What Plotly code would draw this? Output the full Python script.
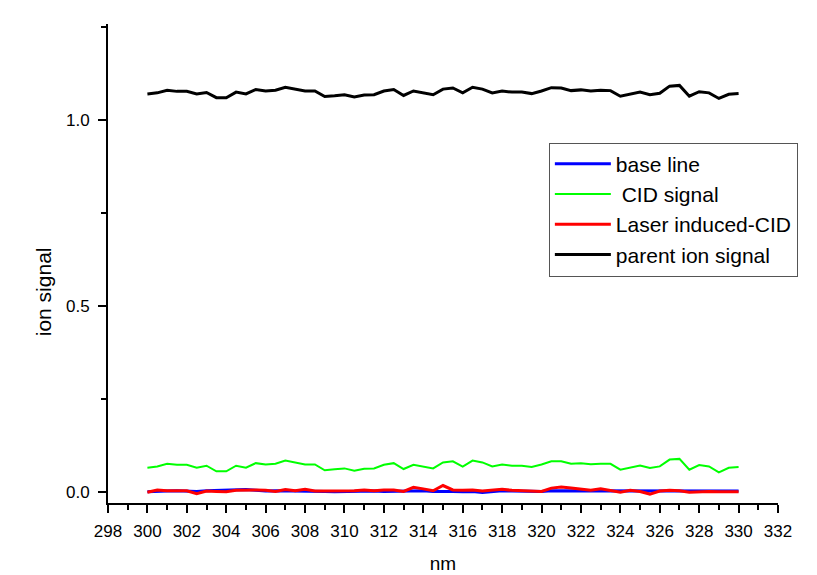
import plotly.graph_objects as go

wavelength = [300, 300.5, 301, 301.5, 302, 302.5, 303, 303.5, 304, 304.5,
              305, 305.5, 306, 306.5, 307, 307.5, 308, 308.5, 309, 309.5,
              310, 310.5, 311, 311.5, 312, 312.5, 313, 313.5, 314, 314.5,
              315, 315.5, 316, 316.5, 317, 317.5, 318, 318.5, 319, 319.5,
              320, 320.5, 321, 321.5, 322, 322.5, 323, 323.5, 324, 324.5,
              325, 325.5, 326, 326.5, 327, 327.5, 328, 328.5, 329, 329.5,
              330]

base_line = [0.001, 0.003, 0.003, 0.004, 0.003, 0.002, 0.004, 0.005, 0.004, 0.005,
             0.007, 0.005, 0.003, 0.004, 0.004, 0.003, 0.004, 0.002, 0.002, 0.001,
             0.002, 0.002, 0.002, 0.003, 0.002, 0.003, 0.003, 0.005, 0.004, 0.002,
             0.003, 0.002, 0.001, 0.002, -0.001, 0.002, 0.004, 0.003, 0.002, 0.001,
             0.002, 0.004, 0.004, 0.003, 0.003, 0.003, 0.003, 0.002, 0.002, 0.003,
             0.003, 0.002, 0.003, 0.004, 0.004, 0.004, 0.003, 0.003, 0.003, 0.003,
             0.003]

cid_signal = [0.0658, 0.0693, 0.0763, 0.0737, 0.0737, 0.0658, 0.0711, 0.0561, 0.0561, 0.0711,
              0.0658, 0.0781, 0.0746, 0.0763, 0.0851, 0.0798, 0.0746, 0.0746, 0.0588, 0.0614,
              0.0640, 0.0579, 0.0632, 0.0640, 0.0737, 0.0781, 0.0623, 0.0737, 0.0684, 0.0640,
              0.0800, 0.0830, 0.0690, 0.0850, 0.0800, 0.0690, 0.0746, 0.0711, 0.0711, 0.0675,
              0.0746, 0.0833, 0.0833, 0.0763, 0.0781, 0.0754, 0.0763, 0.0763, 0.0605, 0.0658,
              0.0719, 0.0649, 0.0693, 0.0877, 0.0895, 0.0605, 0.0728, 0.0693, 0.0535, 0.0658,
              0.0675]

laser_cid = [0.000, 0.006, 0.004, 0.005, 0.004, -0.004, 0.003, 0.002, 0.001, 0.005,
             0.006, 0.006, 0.005, 0.002, 0.007, 0.004, 0.008, 0.003, 0.003, 0.003,
             0.005, 0.004, 0.006, 0.004, 0.006, 0.006, 0.002, 0.013, 0.009, 0.004,
             0.018, 0.006, 0.005, 0.006, 0.003, 0.005, 0.008, 0.005, 0.004, 0.004,
             0.002, 0.011, 0.014, 0.011, 0.008, 0.005, 0.009, 0.004, 0.000, 0.005,
             0.002, -0.005, 0.003, 0.005, 0.004, 0.000, 0.002, 0.002, 0.001, 0.001,
             0.001]

parent_ion = [1.070, 1.073, 1.080, 1.077, 1.077, 1.070, 1.074, 1.060, 1.060, 1.075,
              1.070, 1.082, 1.078, 1.080, 1.088, 1.083, 1.078, 1.078, 1.063, 1.065,
              1.068, 1.062, 1.067, 1.068, 1.078, 1.082, 1.066, 1.078, 1.072, 1.068,
              1.083, 1.086, 1.073, 1.088, 1.083, 1.073, 1.078, 1.075, 1.075, 1.071,
              1.078, 1.087, 1.086, 1.079, 1.081, 1.078, 1.080, 1.079, 1.064, 1.069,
              1.075, 1.068, 1.072, 1.091, 1.093, 1.064, 1.076, 1.073, 1.058, 1.069,
              1.071]

FONT = "Liberation Sans, Arial, Helvetica, sans-serif"

fig = go.Figure()
fig.add_trace(go.Scatter(x=wavelength, y=base_line, mode="lines", name="base line",
                         line=dict(color="#0000FF", width=3)))
fig.add_trace(go.Scatter(x=wavelength, y=cid_signal, mode="lines", name=" CID signal",
                         line=dict(color="#00FF00", width=2)))
fig.add_trace(go.Scatter(x=wavelength, y=laser_cid, mode="lines", name="Laser induced-CID",
                         line=dict(color="#FF0000", width=3)))
fig.add_trace(go.Scatter(x=wavelength, y=parent_ion, mode="lines", name="parent ion signal",
                         line=dict(color="#000000", width=3)))

axis_common = dict(
    showline=True, linecolor="black", linewidth=2,
    ticks="outside", ticklen=8, tickwidth=2, tickcolor="black",
    showgrid=False, zeroline=False, mirror=False,
    tickfont=dict(family=FONT, size=17, color="black"),
)

fig.update_layout(
    width=817, height=575,
    margin=dict(l=100, r=47, t=16, b=70),
    paper_bgcolor="white", plot_bgcolor="white",
    font=dict(family=FONT, color="black"),
    xaxis=dict(range=[298, 332], dtick=2, tick0=298, ticklabelstandoff=4,
               minor=dict(ticks="outside", ticklen=5, tickwidth=2, tickcolor="black", dtick=1),
               title=dict(text="nm", font=dict(family=FONT, size=19), standoff=16),
               **axis_common),
    yaxis=dict(range=[-0.029, 1.258], dtick=0.5, tick0=0, tickformat=".1f", ticklabelstandoff=5,
               minor=dict(ticks="outside", ticklen=5, tickwidth=2, tickcolor="black", dtick=0.25),
               **axis_common),
    legend=dict(x=0.658, y=0.7526, xanchor="left", yanchor="top",
                bgcolor="white", bordercolor="#555555", borderwidth=1,
                font=dict(family=FONT, size=21, color="black"),
                itemwidth=56, tracegroupgap=0),
    showlegend=True,
    annotations=[dict(text="ion signal", textangle=-90, showarrow=False,
                      xref="paper", yref="paper", x=-0.097, y=0.44,
                      xanchor="center", yanchor="middle",
                      font=dict(family=FONT, size=21, color="black"))],
)

fig.write_html("out.html")
